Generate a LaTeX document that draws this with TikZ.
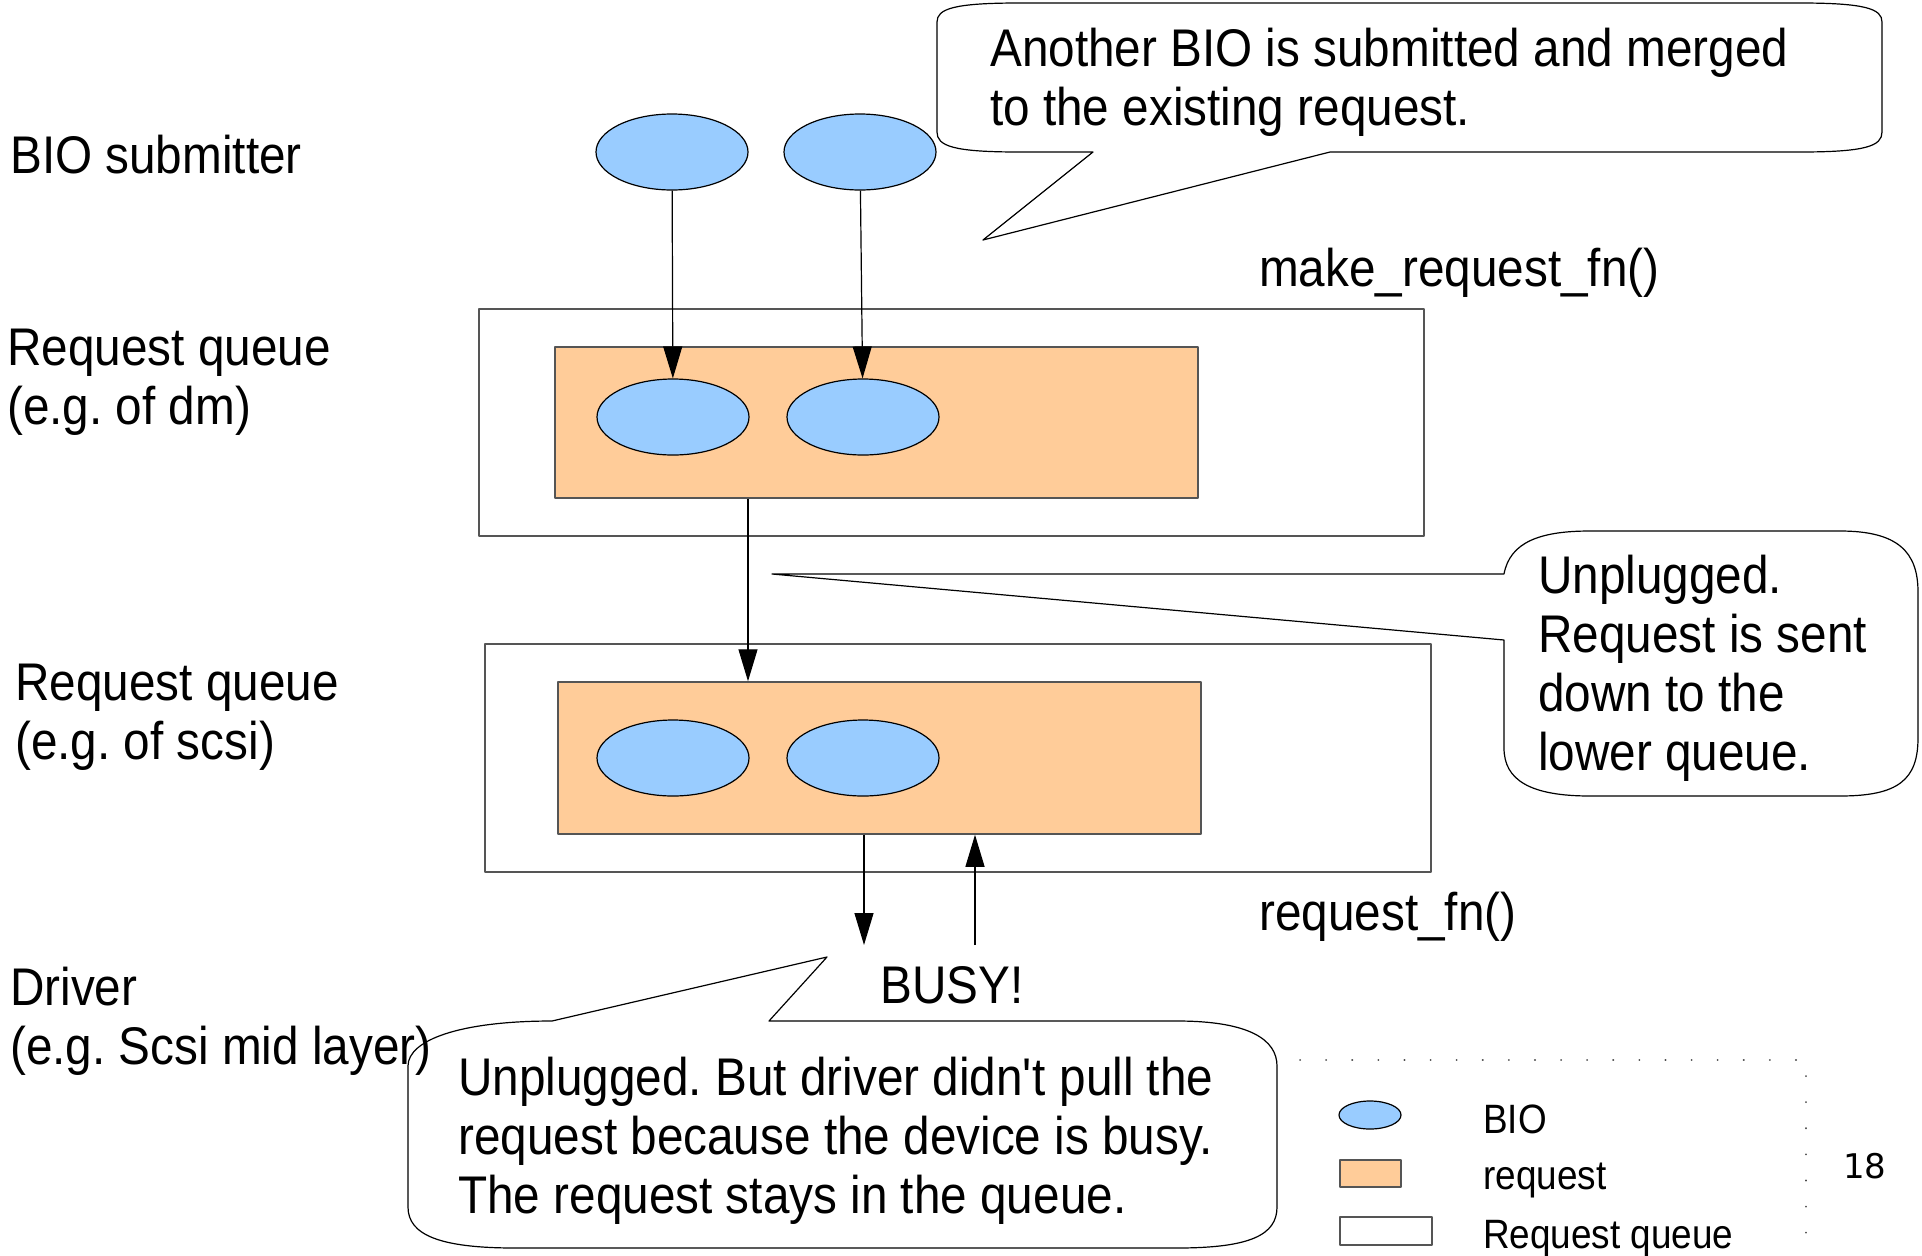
\documentclass[tikz,border=0pt]{standalone}
\usepackage{fontspec}
\setmainfont[FakeStretch=0.9]{Liberation Sans}
\newfontfamily\pagenofont{DejaVu Sans}
\usetikzlibrary{arrows.meta}
\usetikzlibrary{shapes.geometric}
\frenchspacing

\definecolor{bioblue}{HTML}{99CCFF}
\definecolor{reqorange}{HTML}{FFCC99}
\definecolor{boxgray}{HTML}{555555}

\tikzset{
  bio/.style={ellipse,draw=black,fill=bioblue,line width=1.2bp,minimum width=152bp,minimum height=76bp,inner sep=0pt},
  request/.style={rectangle,draw=boxgray,fill=reqorange,line width=1.5bp,minimum width=643bp,minimum height=151bp,inner sep=0pt},
  queue/.style={rectangle,draw=boxgray,line width=1.5bp,minimum width=945bp,minimum height=227bp,inner sep=0pt},
  sidetext/.style={inner sep=0pt,font=\fontsize{53bp}{59bp}\selectfont,align=left},
  legendtext/.style={inner sep=0pt,font=\fontsize{41bp}{48bp}\selectfont,anchor=base west},
  balloon/.style={draw=black,line width=1.2bp,line join=round},
}

\begin{document}
\begin{tikzpicture}[>={Triangle[length=32bp,width=19bp]},x=1bp,y=-1bp,line join=bevel]
\useasboundingbox (0,0) rectangle (1922,1255);
%%
\node (queue_dm) at (951.5,422.5) [queue] {};
  \node (req_dm) at (876.5,422.5) [request] {};
  \node (queue_scsi) at (958,758) [queue,minimum width=946bp,minimum height=228bp] {};
  \node (req_scsi) at (879.5,758) [request,minimum height=152bp] {};
  \node (bio_sub_1) at (672,152) [bio] {};
  \node (bio_sub_2) at (860,152) [bio] {};
  \node (bio_dm_1) at (673,417) [bio] {};
  \node (bio_dm_2) at (863,417) [bio] {};
  \node (bio_scsi_1) at (673,758) [bio] {};
  \node (bio_scsi_2) at (863,758) [bio] {};
  \coordinate (drv_in) at (864,945);
  \coordinate (drv_out) at (975,945);
  \draw [black,line width=1.2bp,->] (bio_sub_1) -- (bio_dm_1);
  \draw [black,line width=1.2bp,->] (bio_sub_2) -- (bio_dm_2);
  \draw [black,line width=1.2bp,->] ([xshift=-128.5bp]req_dm.south) -- ([xshift=-128.5bp]req_dm.south |- req_scsi.north);
  \draw [black,line width=1.2bp,->] (req_scsi.south -| drv_in) -- (drv_in);
  \draw [black,line width=1.2bp,->] (drv_out) -- (req_scsi.south -| drv_out);
%
  \draw [balloon] (1093,152) -- (983,240) -- (1330,152) -- (1800,152) .. controls (1866,152) and (1882,146) .. (1882,132) -- (1882,22) .. controls (1882,9) and (1866,3) .. (1800,3) -- (1019,3) .. controls (953,3) and (937,9) .. (937,22) -- (937,132) .. controls (937,146) and (953,152) .. (1019,152) -- cycle;
  \draw [balloon] (1504,574) .. controls (1510,542) and (1540,531) .. (1590,531) -- (1840,531) .. controls (1898,531) and (1918,552) .. (1918,592) -- (1918,738) .. controls (1918,780) and (1898,796) .. (1840,796) -- (1590,796) .. controls (1530,796) and (1504,780) .. (1504,748) -- (1504,640) -- (772,574) -- cycle;
  \draw [balloon] (552,1021) -- (827,957) -- (769,1021) -- (1177,1021) .. controls (1250,1021) and (1277,1040) .. (1277,1066) -- (1277,1207) .. controls (1277,1235) and (1250,1248) .. (1177,1248) -- (515,1248) .. controls (440,1248) and (408,1235) .. (408,1207) -- (408,1066) .. controls (408,1040) and (460,1021) .. (552,1021) -- cycle;
  \draw [black!70,line width=2bp,line cap=round,dash pattern=on 0.1bp off 26bp] (1300,1060) -- (1806,1060) -- (1806,1255);
%
  \node (txt_submitter) at (10,135) [sidetext,anchor=north west] {BIO submitter};
  \node (txt_queue_dm) at (7,329) [sidetext,anchor=north west] {Request queue\\(e.g. of dm)};
  \node (txt_queue_scsi) at (15,664) [sidetext,anchor=north west] {Request queue\\(e.g. of scsi)};
  \node (txt_driver) at (10,967) [sidetext,anchor=north west] {Driver\\(e.g. Scsi mid layer)};
  \node (txt_make_req) at (1259,286) [sidetext,anchor=base west] {make\_request\_fn()};
  \node (txt_req_fn) at (1259,930) [sidetext,anchor=base west] {request\_fn()};
  \node (txt_busy) at (952,1003) [sidetext,anchor=base] {BUSY!};
  \node (txt_merged) at (990,28) [sidetext,anchor=north west] {Another BIO is submitted and merged\\to the existing request.};
  \node (txt_unplugged) at (1538,555) [sidetext,anchor=north west] {Unplugged.\\Request is sent\\down to the\\lower queue.};
  \node (txt_busy_note) at (458,1057) [sidetext,anchor=north west] {Unplugged. But driver didn\textquotesingle t pull the\\request because the device is busy.\\The request stays in the queue.};
%
  \node (key_bio) at (1370,1115) [bio,minimum width=62bp,minimum height=28bp] {};
  \node (key_req) at (1370.5,1173.5) [request,minimum width=61bp,minimum height=27bp] {};
  \node (key_queue) at (1386,1231) [queue,minimum width=92bp,minimum height=28bp] {};
  \node (key_bio_txt) at (1483,1133) [legendtext] {BIO};
  \node (key_req_txt) at (1483,1189) [legendtext] {request};
  \node (key_queue_txt) at (1483,1248) [legendtext] {Request queue};
  \node (page_no) at (1843,1178) [inner sep=0pt,anchor=base west,font=\pagenofont\fontsize{34bp}{40bp}\selectfont] {18};
%
\end{tikzpicture}
\end{document}
